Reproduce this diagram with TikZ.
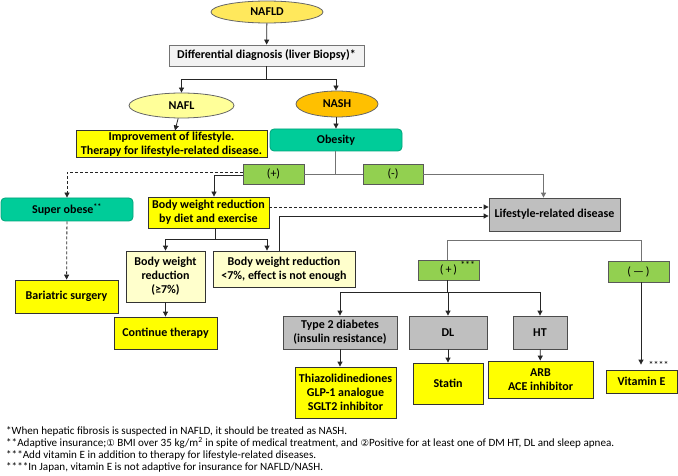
\documentclass[tikz,border=0pt]{standalone}
\usepackage{fontspec}
\setmainfont{Carlito}
\newfontfamily\dejavu{DejaVu Sans}
\usetikzlibrary{shapes.geometric,arrows.meta}
\definecolor{yel}{HTML}{FFFF00}
\definecolor{lyel}{HTML}{FFFFCC}
\definecolor{gry}{HTML}{BFBFBF}
\definecolor{lgry}{HTML}{F2F2F2}
\definecolor{grn}{HTML}{92D050}
\definecolor{tea}{HTML}{00CC99}
\definecolor{gold}{HTML}{FFE85C}
\definecolor{nafl}{HTML}{FFFF99}
\definecolor{orng}{HTML}{FFC000}
\tikzset{
  base/.style={draw=black!80, line width=0.8pt, inner sep=1pt, align=center,
    font=\bfseries\fontsize{12}{14}\selectfont},
  ybox/.style={base, fill=yel},
  lybox/.style={base, fill=lyel},
  gbox/.style={base, fill=gry, draw=black!70},
  dbox/.style={base, fill=lgry, draw=black!55},
  grbox/.style={base, fill=grn, draw=black!65, font=\fontsize{12}{13}\selectfont},
  tbox/.style={base, fill=tea, draw=tea!80!black, rounded corners=4pt},
  ell/.style={base, ellipse, inner sep=0pt, draw=black!60},
  arr/.style={-{Triangle[length=5pt,width=5pt]}, draw=black!85, line width=0.8pt},
  gline/.style={draw=black!55, line width=0.9pt},
  garr/.style={gline, -{Triangle[length=5pt,width=5pt]}},
  dashln/.style={dash pattern=on 3pt off 2pt},
  note/.style={anchor=base west, inner sep=0pt, font=\fontsize{11.1}{12}\selectfont}
}
\begin{document}
\begin{tikzpicture}[x=1pt,y=-1pt]
\useasboundingbox (0,0) rectangle (678,476);
% top
\node[ell, fill=gold, minimum width=112, minimum height=22] (nafld) at (267,12) {NAFLD};
\node[dbox, minimum width=195, minimum height=21] (diff) at (266.5,55.5) {Differential diagnosis (liver Biopsy)*};
\node[ell, fill=nafl, minimum width=105, minimum height=25] (nafl) at (181.5,105.5) {NAFL};
\node[ell, fill=orng, minimum width=82, minimum height=26] (nash) at (337,104) {NASH};
\node[ybox, minimum width=191, minimum height=26] (improve) at (171.5,144) {Improvement of lifestyle.\\Therapy for lifestyle-related disease.};
\node[tbox, minimum width=132, minimum height=22] (obesity) at (336,140) {Obesity};
\node[grbox, minimum width=61, minimum height=20] (plus1) at (273.5,174) {(+)};
\node[grbox, minimum width=60, minimum height=20] (minus1) at (393,174) {(-)};
\node[gbox, minimum width=131, minimum height=33] (life) at (554.5,214.5) {Lifestyle-related disease};
% left
\node[tbox, minimum width=132, minimum height=23] (super) at (67,209.5) {Super obese\textsuperscript{**}};
\node[ybox, minimum width=103, minimum height=33] (bari) at (66.5,296.5) {Bariatric surgery};
\node[ybox, minimum width=121, minimum height=31] (bwr) at (208.5,212.5) {Body weight reduction\\by diet and exercise};
\node[lybox, minimum width=79, minimum height=51] (ge7) at (165.5,276.5) {Body weight\\reduction\\(≥7\%)};
\node[lybox, minimum width=142, minimum height=36] (lt7) at (284,269) {Body weight reduction\\<7\%, effect is not enough};
\node[ybox, minimum width=103, minimum height=32] (cont) at (165.5,333) {Continue therapy};
% right
\node[grbox, minimum width=61, minimum height=20,
  label={[anchor=north east, inner sep=1pt, font=\fontsize{10}{10}\selectfont, yshift=-1pt, xshift=-3pt]north east:***}] (plus2) at (448.5,270) {(\,+\,)};
\node[grbox, minimum width=61, minimum height=21] (minus2) at (638.5,271.5) {(\,—\,)};
\node[gbox, minimum width=114, minimum height=33] (t2d) at (340,332.5) {Type 2 diabetes\\(insulin resistance)};
\node[gbox, minimum width=78, minimum height=33] (dl) at (448,332.5) {DL};
\node[gbox, minimum width=54, minimum height=33] (ht) at (540,332.5) {HT};
\node[ybox, minimum width=101, minimum height=51] (thia) at (345.5,392.5) {Thiazolidinediones\\GLP-1 analogue\\SGLT2 inhibitor};
\node[ybox, minimum width=70, minimum height=41] (statin) at (448,383.5) {Statin};
\node[ybox, minimum width=105, minimum height=37] (arb) at (540.5,379.5) {ARB\\ACE inhibitor};
\node[ybox, minimum width=71, minimum height=23,
  label={[anchor=south west, inner sep=0pt, font=\fontsize{10}{10}\selectfont, xshift=-29pt, yshift=1pt]north east:****}] (vite) at (641.5,381.5) {Vitamin E};
% connectors
\draw[arr] (nafld) -- (diff);
\draw[arr] (diff.south) -- ++(0,13) -| (nafl.north);
\draw[arr] (diff.south) -- ++(0,13) -| ([xshift=-1pt]nash.north);
\draw[arr] (nafl) -- (improve);
\draw[arr] ([xshift=-1pt]nash.south) -- ([xshift=-1pt]nash.south |- obesity.north);
\draw[gline] ([xshift=-1pt]obesity.south) -- ([xshift=-1pt]obesity.south |- plus1.east);
\draw[gline] (plus1.east) -- (minus1.west);
\draw[garr] (minus1.east) -| ([xshift=-11pt]life.north);
\draw[arr] ([yshift=-1pt]plus1.west) -| ([xshift=5.5pt]bwr.north);
\draw[arr, dashln] ([yshift=2pt]plus1.west) -| (super.north);
\draw[arr, dashln] (super) -- (bari);
\draw[arr, dashln] ([yshift=5.5pt]bwr.east) -- ([yshift=5.5pt]bwr.east -| life.west);
\draw[arr] ([xshift=-5pt]lt7.north) |- ([yshift=-1.5pt]life.west);
\draw[arr] ([xshift=6.5pt]bwr.south) -- ++(0,11) -| (ge7.north);
\draw[arr] ([xshift=6.5pt]bwr.south) -- ++(0,11) -| ([xshift=-17pt]lt7.north);
\draw[arr] (ge7) -- (cont);
\draw[gline] ([xshift=-1.5pt]plus2.north) -- ++(0,-19) -| ([xshift=2.5pt]minus2.north);
\draw[arr] ([xshift=-1.5pt]plus2.south) -- ++(0,12) -| (t2d.north);
\draw[arr] ([xshift=-1.5pt]plus2.south) -- ++(0,12) -| (dl.north);
\draw[arr] ([xshift=-1.5pt]plus2.south) -- ++(0,12) -| (ht.north);
\draw[arr] (t2d.south) -- (t2d.south |- thia.north);
\draw[arr] (dl) -- (statin);
\draw[arr] (ht) -- (arb);
\draw[arr, shorten >=5pt] ([xshift=2.5pt]minus2.south) -- ([xshift=2.5pt]minus2.south |- vite.north);
% footnotes
\node[note] (n1) at (6,434.5) {*When hepatic fibrosis is suspected in NAFLD, it should be treated as NASH.};
\node[note] (n2) at (6,446.5) {**Adaptive insurance;{\dejavu\fontsize{9.5}{12}\selectfont ①} BMI over 35 kg/m\textsuperscript{2} in spite of medical treatment, and {\dejavu\fontsize{9.5}{12}\selectfont ②}Positive for at least one of DM HT, DL and sleep apnea.};
\node[note] (n3) at (6,458.5) {***Add vitamin E in addition to therapy for lifestyle-related diseases.};
\node[note] (n4) at (6,470.5) {****In Japan, vitamin E is not adaptive for insurance for NAFLD/NASH.};
\end{tikzpicture}
\end{document}
